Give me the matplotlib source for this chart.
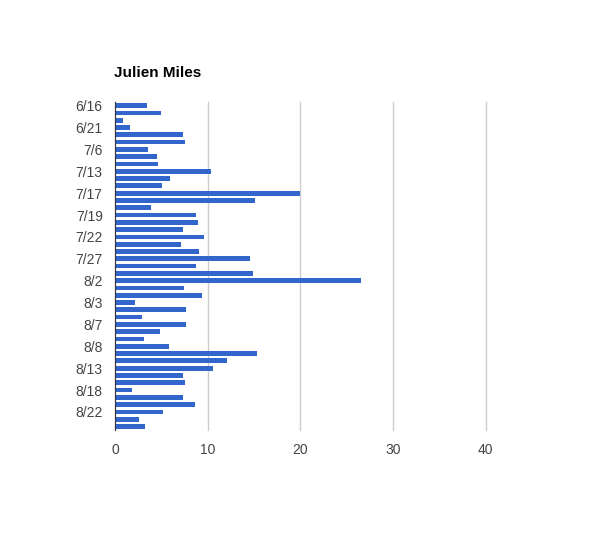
import matplotlib
matplotlib.use('Agg')
import matplotlib.pyplot as plt

dates = ['6/16', '', '', '6/21', '', '', '7/6', '', '', '7/13', '', '', '7/17', '', '',
         '7/19', '', '', '7/22', '', '', '7/27', '', '', '8/2', '', '', '8/3', '', '',
         '8/7', '', '', '8/8', '', '', '8/13', '', '', '8/18', '', '', '8/22', '', '']
values = [3.4, 4.9, 0.8, 1.6, 7.3, 7.5, 3.5, 4.5, 4.6, 10.3, 5.9, 5.0, 20.0, 15.1, 3.9,
          8.7, 8.9, 7.3, 9.6, 7.1, 9.1, 14.5, 8.7, 14.9, 26.5, 7.4, 9.4, 2.1, 7.6, 2.9,
          7.6, 4.8, 3.1, 5.8, 15.3, 12.1, 10.6, 7.3, 7.5, 1.8, 7.3, 8.6, 5.2, 2.6, 3.2]

plt.rcParams['font.family'] = ['Liberation Sans', 'DejaVu Sans']

fig = plt.figure(figsize=(6, 5.33), dpi=100)
ax = fig.add_axes([0.192, 0.193, 0.6175, 0.6156])

pos = list(range(len(values)))
ax.barh(pos, values, height=0.65, color='#3366cc', zorder=3)
ax.set_ylim(len(values) - 0.5, -0.5)
ax.set_xlim(0, 40)
ax.set_xticks([0, 10, 20, 30, 40])
ax.set_yticks(pos)
ax.set_yticklabels(dates)
ax.xaxis.grid(True, color='#cccccc', linewidth=1, zorder=0)
for gl in ax.get_xgridlines():
    gl.set_clip_on(False)
ax.tick_params(axis='both', length=0, labelsize=10, labelcolor='#444444')
ax.tick_params(axis='y', pad=9)
ax.tick_params(axis='x', pad=9)
for s in ['top', 'right', 'bottom']:
    ax.spines[s].set_visible(False)
ax.spines['left'].set_color('#333333')
ax.spines['left'].set_zorder(4)

fig.text(114 / 600, 1 - 73 / 533, 'Julien Miles', fontsize=11, fontweight='bold',
         va='center', ha='left', color='#000000')

fig.savefig('out.png', dpi=100)
